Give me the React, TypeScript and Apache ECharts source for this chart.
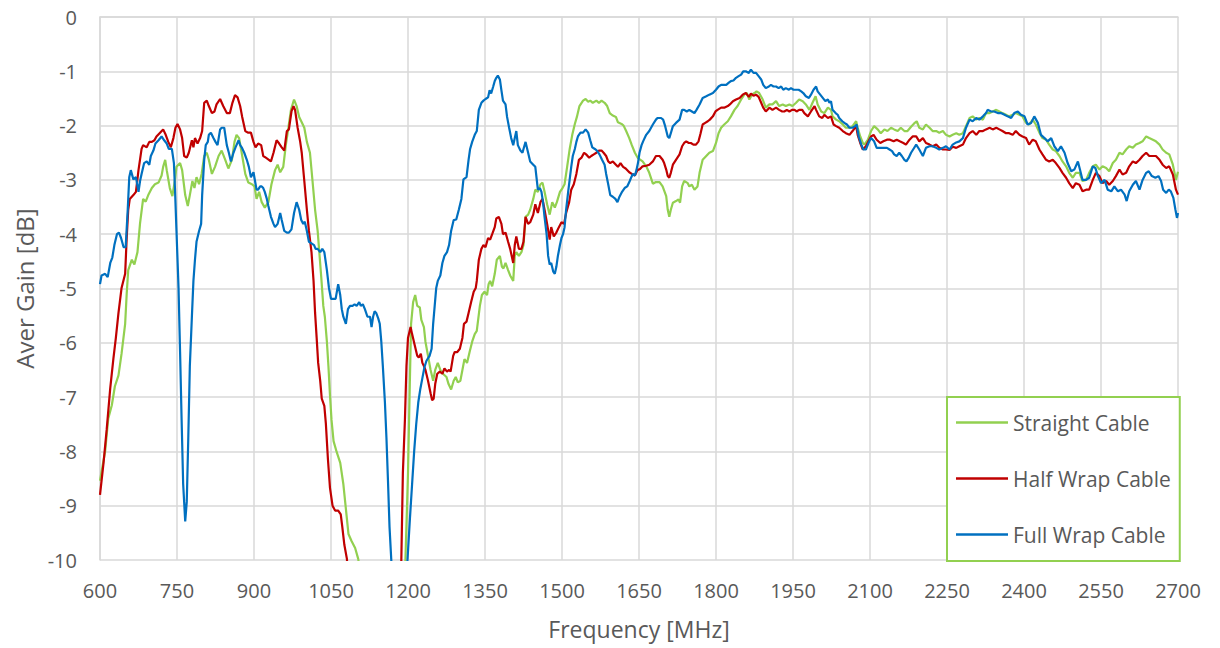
import React, { useEffect, useRef } from "react";
import * as echarts from "echarts";

// Frequency [MHz] vs average gain [dB]
const straightCable: [number, number][] = [
  [600, -8.54], [610, -8.0], [616, -7.4], [623, -7.15], [629, -6.8], [636, -6.6], [642, -6.2], [649, -5.65],
  [652, -5.1], [655, -4.66], [662, -4.47], [667, -4.56], [673, -4.33], [678, -3.8], [684, -3.35], [689, -3.4],
  [694, -3.28], [701, -3.15], [707, -3.08], [714, -3.05], [720, -2.92], [723, -2.76], [727, -2.63], [730, -2.82],
  [736, -3.15], [741, -3.3], [746, -3.0], [749, -2.76], [756, -2.69], [760, -2.82], [766, -3.28], [771, -3.48],
  [775, -3.28], [780, -3.02], [784, -3.15], [788, -2.95], [793, -3.08], [798, -2.89], [803, -2.56], [808, -2.5],
  [812, -2.63], [818, -2.89], [824, -2.76], [831, -2.56], [837, -2.46], [844, -2.63], [850, -2.79], [857, -2.63],
  [862, -2.3], [866, -2.17], [871, -2.23], [876, -2.5], [883, -2.89], [889, -3.05], [896, -3.08], [901, -3.12],
  [905, -3.35], [910, -3.22], [915, -3.41], [921, -3.51], [928, -3.41], [934, -3.08], [941, -2.82], [946, -2.72],
  [951, -2.86], [957, -2.76], [962, -2.36], [967, -2.04], [972, -1.71], [978, -1.52], [983, -1.64], [988, -1.84],
  [993, -1.94], [998, -2.04], [1003, -2.3], [1009, -2.5], [1014, -3.02], [1019, -3.55], [1024, -3.94], [1031, -4.79],
  [1035, -5.32], [1038, -5.52], [1042, -5.98], [1045, -6.43], [1048, -6.96], [1051, -7.42], [1055, -7.81], [1061, -8.01],
  [1068, -8.21], [1074, -8.6], [1079, -9.06], [1084, -9.52], [1090, -9.65], [1097, -9.78], [1103, -9.98], [1110, -10.4],
  [1150, -14], [1191, -11.2], [1195, -10], [1200, -8.4], [1203, -7.0], [1206, -5.65], [1210, -5.25], [1214, -5.12],
  [1218, -5.32], [1223, -5.35], [1226, -5.58], [1231, -5.71], [1234, -5.98], [1239, -6.24], [1244, -6.5], [1249, -6.7],
  [1253, -6.5], [1258, -6.37], [1263, -6.5], [1268, -6.57], [1275, -6.63], [1279, -6.76], [1284, -6.86], [1289, -6.7],
  [1293, -6.63], [1297, -6.73], [1302, -6.7], [1306, -6.5], [1310, -6.3], [1315, -6.37], [1320, -6.17], [1325, -5.98],
  [1330, -5.84], [1334, -5.78], [1340, -5.32], [1344, -5.12], [1349, -5.06], [1354, -5.12], [1357, -4.92], [1360, -4.86],
  [1364, -4.96], [1369, -4.73], [1373, -4.47], [1379, -4.4], [1383, -4.6], [1386, -4.63], [1390, -4.53], [1395, -4.66],
  [1399, -4.76], [1405, -4.86], [1408, -4.4], [1411, -4.33], [1416, -4.4], [1421, -4.33], [1425, -4.2], [1429, -3.68],
  [1434, -3.64], [1438, -3.55], [1444, -3.35], [1448, -3.18], [1453, -3.22], [1458, -3.08], [1462, -3.05], [1466, -3.22],
  [1471, -3.45], [1476, -3.64], [1481, -3.41], [1486, -3.51], [1490, -3.41], [1496, -3.22], [1501, -3.15], [1505, -3.08],
  [1510, -2.76], [1515, -2.43], [1520, -2.17], [1525, -1.97], [1529, -1.84], [1534, -1.64], [1541, -1.54], [1546, -1.51],
  [1551, -1.56], [1555, -1.54], [1560, -1.58], [1567, -1.54], [1572, -1.58], [1577, -1.54], [1583, -1.58], [1588, -1.64],
  [1593, -1.77], [1598, -1.81], [1605, -1.84], [1609, -1.94], [1616, -1.97], [1620, -2.0], [1625, -2.1], [1631, -2.23],
  [1636, -2.36], [1642, -2.5], [1648, -2.6], [1657, -2.66], [1664, -2.75], [1670, -2.87], [1677, -3.07], [1683, -3.04],
  [1690, -3.04], [1696, -3.12], [1703, -3.3], [1706, -3.55], [1709, -3.68], [1712, -3.55], [1716, -3.42], [1722, -3.39],
  [1727, -3.36], [1730, -3.42], [1734, -3.12], [1738, -3.02], [1745, -3.06], [1748, -3.12], [1753, -3.09], [1758, -3.18],
  [1764, -3.12], [1768, -2.87], [1774, -2.63], [1781, -2.56], [1787, -2.5], [1794, -2.47], [1800, -2.32], [1805, -2.14],
  [1810, -2.04], [1816, -1.98], [1823, -1.92], [1829, -1.83], [1836, -1.71], [1842, -1.64], [1849, -1.52], [1855, -1.43],
  [1860, -1.4], [1865, -1.52], [1870, -1.43], [1875, -1.4], [1879, -1.37], [1884, -1.4], [1891, -1.52], [1897, -1.67],
  [1904, -1.61], [1910, -1.61], [1917, -1.55], [1923, -1.64], [1930, -1.61], [1936, -1.64], [1943, -1.61], [1949, -1.64],
  [1956, -1.58], [1962, -1.52], [1969, -1.55], [1975, -1.61], [1982, -1.71], [1988, -1.58], [1994, -1.46], [1998, -1.61],
  [2005, -1.74], [2011, -1.77], [2018, -1.67], [2024, -1.71], [2027, -1.83], [2034, -1.89], [2040, -1.92], [2047, -1.98],
  [2053, -2.04], [2060, -2.04], [2066, -2.01], [2073, -1.92], [2076, -2.04], [2081, -2.2], [2086, -2.32], [2089, -2.35],
  [2096, -2.26], [2102, -2.1], [2108, -2.01], [2115, -2.07], [2121, -2.14], [2128, -2.07], [2134, -2.1], [2141, -2.04],
  [2147, -2.07], [2154, -2.1], [2160, -2.04], [2167, -2.1], [2173, -2.1], [2180, -2.02], [2186, -1.96], [2191, -1.92],
  [2196, -2.04], [2203, -2.07], [2209, -1.98], [2216, -2.04], [2222, -2.1], [2229, -2.1], [2235, -2.13], [2242, -2.1],
  [2248, -2.17], [2255, -2.2], [2261, -2.17], [2268, -2.14], [2274, -2.17], [2281, -2.14], [2287, -2.01], [2294, -1.86],
  [2300, -1.83], [2307, -1.89], [2313, -1.86], [2320, -1.89], [2326, -1.77], [2333, -1.77], [2339, -1.74], [2346, -1.71],
  [2352, -1.74], [2358, -1.77], [2365, -1.8], [2371, -1.83], [2378, -1.8], [2384, -1.77], [2391, -1.8], [2397, -1.83],
  [2404, -1.95], [2410, -1.98], [2417, -1.89], [2423, -1.98], [2430, -2.13], [2436, -2.23], [2443, -2.26], [2449, -2.35],
  [2456, -2.44], [2462, -2.47], [2469, -2.56], [2475, -2.66], [2482, -2.75], [2488, -2.87], [2495, -2.96], [2501, -2.87],
  [2508, -2.87], [2514, -3.02], [2521, -3.0], [2527, -2.87], [2534, -2.75], [2540, -2.72], [2547, -2.81], [2553, -2.75],
  [2560, -2.78], [2566, -2.84], [2573, -2.69], [2579, -2.63], [2586, -2.5], [2592, -2.53], [2599, -2.44], [2605, -2.38],
  [2612, -2.41], [2618, -2.35], [2625, -2.32], [2631, -2.29], [2638, -2.2], [2644, -2.23], [2651, -2.26], [2657, -2.29],
  [2664, -2.35], [2670, -2.44], [2677, -2.5], [2683, -2.53], [2690, -2.72], [2696, -3.0], [2700, -2.85],
];

const halfWrapCable: [number, number][] = [
  [600, -8.8], [607, -8.2], [613, -7.6], [620, -6.83], [626, -6.3], [631, -5.9], [636, -5.45], [642, -4.99],
  [649, -4.73], [652, -4.07], [655, -3.55], [658, -3.35], [665, -3.28], [670, -3.22], [675, -2.82], [681, -2.43],
  [684, -2.36], [691, -2.4], [696, -2.3], [701, -2.3], [706, -2.27], [710, -2.2], [717, -2.13], [723, -2.07],
  [728, -2.17], [733, -2.3], [738, -2.4], [743, -2.23], [747, -2.04], [751, -1.97], [756, -2.07], [760, -2.23],
  [764, -2.56], [769, -2.59], [773, -2.5], [779, -2.27], [782, -2.4], [785, -2.23], [790, -2.33], [795, -2.23],
  [799, -2.1], [803, -1.58], [808, -1.54], [812, -1.64], [818, -1.77], [823, -1.74], [827, -1.61], [834, -1.51],
  [840, -1.64], [847, -1.77], [853, -1.77], [858, -1.58], [863, -1.44], [868, -1.48], [873, -1.64], [877, -1.84],
  [883, -2.1], [888, -2.13], [894, -2.13], [899, -2.3], [903, -2.4], [908, -2.33], [914, -2.36], [918, -2.56],
  [923, -2.59], [929, -2.63], [933, -2.66], [938, -2.5], [944, -2.27], [949, -2.33], [954, -2.4], [959, -2.46],
  [964, -2.1], [968, -2.07], [973, -1.74], [977, -1.64], [980, -1.71], [985, -2.04], [990, -2.3], [993, -2.5],
  [998, -3.02], [1003, -3.55], [1007, -3.94], [1012, -4.33], [1016, -4.86], [1019, -5.45], [1022, -5.9], [1025, -6.37],
  [1029, -6.7], [1032, -7.03], [1037, -7.16], [1040, -7.49], [1044, -8.14], [1048, -8.67], [1053, -9.0], [1058, -9.09],
  [1064, -9.09], [1069, -9.16], [1072, -9.39], [1076, -9.72], [1081, -9.98], [1085, -10.6], [1130, -14], [1184, -11.3],
  [1187, -10], [1190, -8.4], [1194, -7.42], [1197, -6.43], [1200, -5.91], [1205, -5.71], [1208, -5.84], [1213, -6.04],
  [1218, -6.24], [1221, -6.27], [1225, -6.2], [1228, -6.37], [1231, -6.43], [1234, -6.5], [1239, -6.7], [1244, -6.93],
  [1247, -7.06], [1250, -7.03], [1253, -6.76], [1257, -6.57], [1262, -6.53], [1267, -6.57], [1271, -6.47], [1276, -6.53],
  [1280, -6.5], [1283, -6.53], [1288, -6.24], [1291, -6.17], [1296, -6.17], [1301, -6.11], [1306, -5.91], [1309, -5.65],
  [1314, -5.61], [1318, -5.45], [1323, -5.25], [1328, -5.06], [1332, -4.99], [1334, -4.86], [1338, -4.47], [1343, -4.27],
  [1347, -4.2], [1351, -4.24], [1356, -4.07], [1360, -4.1], [1364, -4.0], [1369, -3.87], [1372, -3.71], [1377, -3.68],
  [1382, -3.81], [1385, -4.0], [1390, -3.97], [1395, -4.14], [1399, -4.27], [1405, -4.53], [1408, -4.2], [1411, -4.04],
  [1416, -4.27], [1421, -4.27], [1425, -4.14], [1429, -3.68], [1434, -3.81], [1438, -3.78], [1444, -3.64], [1448, -3.45],
  [1453, -3.61], [1458, -3.41], [1462, -3.35], [1466, -3.55], [1471, -3.81], [1476, -4.1], [1479, -3.87], [1484, -4.04],
  [1489, -3.97], [1494, -3.87], [1499, -3.78], [1504, -3.81], [1508, -3.61], [1514, -3.41], [1518, -3.18], [1523, -3.08],
  [1528, -2.89], [1533, -2.63], [1538, -2.59], [1543, -2.5], [1547, -2.53], [1553, -2.59], [1557, -2.56], [1562, -2.53],
  [1567, -2.5], [1572, -2.46], [1577, -2.46], [1581, -2.5], [1586, -2.56], [1590, -2.66], [1594, -2.69], [1599, -2.66],
  [1605, -2.72], [1609, -2.76], [1614, -2.69], [1619, -2.76], [1624, -2.79], [1631, -2.86], [1636, -2.89], [1642, -2.92],
  [1647, -2.82], [1652, -2.8], [1657, -2.75], [1664, -2.74], [1670, -2.72], [1677, -2.66], [1683, -2.56], [1690, -2.56],
  [1696, -2.63], [1699, -2.69], [1703, -2.81], [1706, -2.93], [1709, -2.96], [1712, -2.87], [1716, -2.72], [1722, -2.63],
  [1729, -2.53], [1734, -2.38], [1738, -2.32], [1742, -2.29], [1747, -2.32], [1751, -2.32], [1756, -2.35], [1761, -2.35],
  [1766, -2.29], [1770, -2.14], [1774, -1.98], [1779, -1.95], [1784, -1.92], [1788, -1.89], [1794, -1.83], [1799, -1.74],
  [1803, -1.71], [1810, -1.67], [1816, -1.67], [1823, -1.64], [1827, -1.61], [1833, -1.55], [1839, -1.52], [1846, -1.49],
  [1852, -1.43], [1858, -1.4], [1864, -1.47], [1868, -1.41], [1873, -1.45], [1878, -1.43], [1883, -1.47], [1888, -1.58],
  [1892, -1.67], [1897, -1.74], [1904, -1.67], [1910, -1.71], [1917, -1.67], [1923, -1.71], [1929, -1.74], [1933, -1.74],
  [1938, -1.71], [1943, -1.74], [1948, -1.71], [1953, -1.71], [1957, -1.74], [1962, -1.71], [1968, -1.71], [1972, -1.77],
  [1979, -1.83], [1985, -1.74], [1992, -1.64], [1995, -1.71], [2001, -1.83], [2007, -1.86], [2011, -1.8], [2018, -1.86],
  [2024, -1.83], [2029, -1.98], [2034, -2.01], [2040, -2.04], [2047, -2.1], [2053, -2.14], [2060, -2.17], [2066, -2.1],
  [2073, -2.01], [2076, -2.17], [2081, -2.32], [2086, -2.44], [2092, -2.38], [2097, -2.29], [2102, -2.2], [2107, -2.17],
  [2113, -2.26], [2120, -2.32], [2126, -2.29], [2133, -2.26], [2139, -2.26], [2146, -2.29], [2152, -2.26], [2158, -2.29],
  [2165, -2.32], [2170, -2.35], [2177, -2.26], [2183, -2.2], [2190, -2.2], [2196, -2.29], [2203, -2.23], [2209, -2.32],
  [2216, -2.35], [2222, -2.38], [2229, -2.35], [2235, -2.41], [2242, -2.44], [2248, -2.44], [2255, -2.45], [2261, -2.39],
  [2268, -2.41], [2274, -2.38], [2281, -2.35], [2287, -2.23], [2294, -2.14], [2300, -2.1], [2307, -2.17], [2313, -2.1],
  [2320, -2.1], [2326, -2.07], [2333, -2.04], [2339, -2.07], [2346, -2.04], [2352, -2.07], [2358, -2.1], [2365, -2.14],
  [2371, -2.14], [2378, -2.17], [2384, -2.1], [2391, -2.17], [2397, -2.2], [2404, -2.23], [2410, -2.35], [2417, -2.26],
  [2423, -2.29], [2430, -2.44], [2436, -2.53], [2443, -2.63], [2449, -2.66], [2456, -2.63], [2462, -2.69], [2469, -2.78],
  [2475, -2.87], [2482, -2.96], [2488, -3.06], [2495, -3.15], [2501, -3.06], [2508, -3.09], [2514, -3.21], [2521, -3.18],
  [2527, -3.18], [2534, -3.0], [2540, -2.87], [2547, -2.93], [2553, -3.06], [2560, -3.02], [2566, -3.09], [2573, -3.02],
  [2579, -2.93], [2586, -2.81], [2592, -2.9], [2599, -2.87], [2605, -2.75], [2612, -2.66], [2618, -2.69], [2625, -2.63],
  [2631, -2.56], [2638, -2.5], [2644, -2.56], [2651, -2.56], [2657, -2.56], [2664, -2.63], [2670, -2.72], [2677, -2.78],
  [2683, -2.75], [2690, -2.9], [2696, -3.18], [2700, -3.27],
];

const fullWrapCable: [number, number][] = [
  [600, -4.92], [603, -4.76], [610, -4.73], [615, -4.79], [620, -4.53], [624, -4.43], [628, -4.2], [633, -4.0],
  [637, -3.97], [641, -4.07], [646, -4.24], [650, -4.24], [654, -3.55], [657, -2.95], [660, -2.82], [665, -2.99],
  [670, -2.95], [675, -3.22], [678, -3.02], [681, -2.89], [686, -2.69], [691, -2.66], [696, -2.72], [699, -2.56],
  [704, -2.46], [708, -2.33], [714, -2.27], [720, -2.2], [725, -2.27], [730, -2.33], [734, -2.43], [740, -2.43],
  [744, -2.69], [746, -3.15], [749, -3.94], [753, -4.99], [756, -6.17], [759, -7.42], [762, -8.6], [766, -9.29],
  [769, -8.93], [772, -7.75], [775, -6.43], [779, -5.52], [782, -4.86], [785, -4.47], [788, -4.14], [793, -3.94],
  [797, -3.81], [799, -3.28], [803, -2.63], [806, -2.36], [810, -2.3], [812, -2.17], [816, -2.13], [821, -2.23],
  [825, -2.3], [829, -2.36], [834, -2.07], [837, -2.04], [842, -2.04], [847, -2.36], [851, -2.5], [855, -2.66],
  [860, -2.5], [864, -2.4], [870, -2.27], [873, -2.36], [876, -2.4], [881, -2.5], [886, -2.63], [890, -2.76],
  [894, -2.95], [899, -2.86], [902, -3.02], [905, -3.18], [908, -3.18], [912, -3.12], [915, -3.12], [918, -3.15],
  [921, -3.22], [925, -3.35], [928, -3.48], [933, -3.68], [938, -3.81], [941, -3.87], [946, -3.81], [951, -3.61],
  [954, -3.74], [959, -3.94], [964, -3.97], [968, -3.97], [973, -3.91], [978, -3.61], [983, -3.41], [988, -3.55],
  [992, -3.74], [996, -3.81], [999, -3.77], [1003, -3.94], [1007, -4.14], [1012, -4.17], [1017, -4.2], [1020, -4.27],
  [1024, -4.27], [1029, -4.33], [1033, -4.27], [1037, -4.33], [1042, -4.66], [1046, -4.99], [1050, -5.19], [1055, -5.19],
  [1059, -5.19], [1064, -4.92], [1068, -5.12], [1071, -5.38], [1074, -5.52], [1079, -5.65], [1083, -5.38], [1087, -5.32],
  [1092, -5.32], [1096, -5.29], [1100, -5.32], [1105, -5.25], [1108, -5.32], [1112, -5.29], [1116, -5.38], [1121, -5.52],
  [1126, -5.52], [1129, -5.71], [1132, -5.52], [1135, -5.42], [1138, -5.45], [1142, -5.55], [1145, -5.65], [1148, -5.98],
  [1151, -6.43], [1155, -7.09], [1158, -7.75], [1161, -8.54], [1164, -9.39], [1168, -10.1], [1182, -13], [1199, -10],
  [1204, -9.2], [1208, -8.6], [1212, -8.0], [1216, -7.5], [1220, -7.1], [1224, -6.85], [1228, -6.65], [1232, -6.45],
  [1236, -6.33], [1242, -6.24], [1246, -6.11], [1249, -5.65], [1252, -5.32], [1255, -4.99], [1258, -4.86], [1263, -4.76],
  [1267, -4.53], [1271, -4.4], [1276, -4.33], [1280, -4.2], [1284, -3.94], [1289, -3.74], [1294, -3.73], [1299, -3.55],
  [1304, -3.35], [1308, -2.99], [1314, -2.95], [1318, -2.63], [1321, -2.43], [1325, -2.3], [1330, -2.17], [1334, -2.1],
  [1338, -1.71], [1343, -1.58], [1347, -1.54], [1351, -1.51], [1356, -1.48], [1359, -1.35], [1362, -1.41], [1366, -1.28],
  [1369, -1.18], [1372, -1.12], [1375, -1.08], [1379, -1.15], [1382, -1.35], [1385, -1.54], [1390, -1.61], [1393, -1.84],
  [1397, -2.04], [1401, -2.23], [1405, -2.36], [1408, -2.23], [1411, -2.1], [1414, -2.36], [1419, -2.46], [1423, -2.5],
  [1425, -2.43], [1429, -2.3], [1434, -2.5], [1438, -2.66], [1444, -2.72], [1448, -2.76], [1453, -3.18], [1457, -3.15],
  [1460, -3.22], [1463, -3.41], [1466, -3.68], [1470, -4.0], [1473, -4.4], [1476, -4.56], [1479, -4.53], [1483, -4.69],
  [1486, -4.73], [1489, -4.6], [1492, -4.4], [1496, -4.2], [1499, -4.07], [1502, -4.0], [1505, -3.87], [1508, -3.55],
  [1512, -3.22], [1515, -2.99], [1518, -2.76], [1521, -2.56], [1525, -2.43], [1528, -2.3], [1531, -2.2], [1536, -2.13],
  [1541, -2.13], [1546, -2.07], [1551, -2.13], [1555, -2.27], [1559, -2.4], [1564, -2.43], [1568, -2.46], [1573, -2.53],
  [1578, -2.63], [1583, -2.72], [1586, -2.89], [1590, -3.08], [1594, -3.28], [1599, -3.31], [1604, -3.35], [1608, -3.41],
  [1612, -3.31], [1617, -3.22], [1622, -3.15], [1627, -3.12], [1632, -3.02], [1635, -2.95], [1638, -2.89], [1642, -2.92],
  [1645, -2.82], [1648, -2.69], [1651, -2.5], [1655, -2.36], [1658, -2.29], [1664, -2.17], [1670, -2.1], [1677, -1.98],
  [1683, -1.89], [1686, -1.86], [1693, -1.86], [1697, -1.89], [1701, -2.01], [1706, -2.2], [1709, -2.23], [1712, -2.14],
  [1716, -2.01], [1722, -1.95], [1729, -1.89], [1734, -1.71], [1738, -1.71], [1743, -1.74], [1748, -1.71], [1753, -1.74],
  [1758, -1.77], [1762, -1.71], [1768, -1.61], [1774, -1.49], [1781, -1.46], [1787, -1.43], [1794, -1.4], [1800, -1.34],
  [1805, -1.28], [1810, -1.25], [1814, -1.25], [1820, -1.25], [1825, -1.21], [1829, -1.18], [1834, -1.17], [1839, -1.12],
  [1844, -1.09], [1849, -1.06], [1853, -1.0], [1858, -1.0], [1864, -1.03], [1868, -0.97], [1873, -1.03], [1878, -1.03],
  [1883, -1.09], [1888, -1.15], [1892, -1.25], [1897, -1.31], [1903, -1.28], [1907, -1.25], [1912, -1.28], [1917, -1.28],
  [1922, -1.31], [1927, -1.28], [1931, -1.34], [1936, -1.31], [1942, -1.34], [1946, -1.31], [1951, -1.34], [1956, -1.34],
  [1961, -1.34], [1966, -1.37], [1970, -1.4], [1975, -1.46], [1981, -1.49], [1985, -1.43], [1990, -1.34], [1995, -1.28],
  [1998, -1.37], [2003, -1.43], [2008, -1.49], [2013, -1.55], [2018, -1.52], [2021, -1.58], [2024, -1.55], [2027, -1.71],
  [2033, -1.77], [2037, -1.8], [2040, -1.86], [2046, -1.92], [2050, -1.95], [2055, -1.98], [2060, -2.04], [2066, -2.04],
  [2071, -2.01], [2074, -1.98], [2078, -2.2], [2083, -2.35], [2087, -2.44], [2092, -2.44], [2097, -2.32], [2102, -2.23],
  [2108, -2.29], [2113, -2.41], [2118, -2.41], [2123, -2.41], [2128, -2.41], [2133, -2.41], [2138, -2.44], [2143, -2.47],
  [2147, -2.53], [2152, -2.56], [2157, -2.5], [2162, -2.56], [2167, -2.63], [2171, -2.66], [2175, -2.6], [2180, -2.5],
  [2184, -2.44], [2190, -2.35], [2196, -2.44], [2203, -2.56], [2209, -2.41], [2216, -2.38], [2222, -2.38], [2229, -2.41],
  [2235, -2.44], [2242, -2.41], [2248, -2.38], [2255, -2.44], [2261, -2.35], [2268, -2.31], [2274, -2.29], [2281, -2.23],
  [2287, -2.04], [2294, -1.89], [2300, -1.92], [2307, -1.86], [2313, -1.89], [2320, -1.83], [2326, -1.77], [2329, -1.71],
  [2336, -1.74], [2342, -1.74], [2349, -1.77], [2355, -1.77], [2362, -1.8], [2368, -1.83], [2375, -1.86], [2381, -1.77],
  [2388, -1.74], [2394, -1.8], [2401, -1.83], [2407, -1.98], [2414, -1.95], [2420, -1.83], [2427, -1.95], [2433, -2.17],
  [2440, -2.23], [2446, -2.29], [2453, -2.23], [2459, -2.38], [2466, -2.47], [2472, -2.38], [2479, -2.5], [2485, -2.69],
  [2492, -2.84], [2498, -2.81], [2505, -2.66], [2509, -2.81], [2514, -3.0], [2521, -3.0], [2527, -2.96], [2534, -2.75],
  [2539, -2.78], [2544, -2.93], [2550, -3.06], [2557, -3.0], [2563, -3.18], [2570, -3.21], [2576, -3.12], [2583, -3.21],
  [2589, -3.18], [2596, -3.27], [2600, -3.39], [2605, -3.21], [2612, -3.09], [2618, -3.02], [2625, -3.18], [2631, -3.0],
  [2638, -2.87], [2643, -2.84], [2649, -2.93], [2656, -2.96], [2662, -2.93], [2667, -3.02], [2671, -3.18], [2677, -3.24],
  [2682, -3.18], [2686, -3.21], [2691, -3.33], [2695, -3.55], [2698, -3.7], [2700, -3.61],
];

const seriesNames = ["Straight Cable", "Half Wrap Cable", "Full Wrap Cable"];
const seriesColors = ["#92D050", "#C00000", "#0070C0"];
const seriesData = [straightCable, halfWrapCable, fullWrapCable];

const FONT = "'Open Sans', 'Noto Sans', sans-serif";
const TEXT = "#595959";
const GRID = "#D9D9D9";

export default function App() {
  const ref = useRef<HTMLDivElement>(null);
  useEffect(() => {
    if (!ref.current) return;
    const chart = echarts.init(ref.current, undefined, { renderer: "svg" });
    chart.setOption({
      animation: false,
      backgroundColor: "#ffffff",
      grid: { left: 100, right: 42, top: 17, bottom: 88, containLabel: false },
      xAxis: {
        type: "value",
        min: 600,
        max: 2700,
        interval: 150,
        name: "Frequency [MHz]",
        nameLocation: "middle",
        nameGap: 57,
        nameTextStyle: { color: TEXT, fontSize: 23, fontFamily: FONT },
        axisLine: { show: true, lineStyle: { color: GRID, width: 1.5 } },
        axisTick: { show: false },
        axisLabel: {
          color: TEXT,
          fontSize: 20,
          fontFamily: FONT,
          margin: 20,
          formatter: (v: number) => String(v),
        },
        splitLine: { show: true, lineStyle: { color: GRID, width: 1.5 } },
      },
      yAxis: {
        type: "value",
        min: -10,
        max: 0,
        interval: 1,
        name: "Aver Gain [dB]",
        nameLocation: "middle",
        nameGap: 62,
        nameTextStyle: { color: TEXT, fontSize: 24, fontFamily: FONT },
        axisLine: { show: true, lineStyle: { color: GRID, width: 1.5 } },
        axisTick: { show: false },
        axisLabel: { color: TEXT, fontSize: 20, fontFamily: FONT, margin: 23 },
        splitLine: { show: true, lineStyle: { color: GRID, width: 1.5 } },
      },
      legend: {
        orient: "vertical",
        left: 947,
        top: 397,
        padding: [15, 9, 16, 9],
        itemGap: 35,
        itemWidth: 52,
        itemHeight: 2.5,
        icon: "rect",
        borderColor: "#92D050",
        borderWidth: 2,
        backgroundColor: "#ffffff",
        textStyle: { color: TEXT, fontSize: 21, fontFamily: FONT, lineHeight: 21, width: 157 },
        data: seriesNames,
      },
      series: seriesNames.map((name, i) => ({
        name,
        type: "line",
        data: seriesData[i],
        showSymbol: false,
        symbol: "none",
        clip: true,
        color: seriesColors[i],
        lineStyle: { color: seriesColors[i], width: 2.2 },
        emphasis: { disabled: true },
      })),
    });
    return () => chart.dispose();
  }, []);
  return (
    <div
      ref={ref}
      style={{ position: "fixed", left: 0, top: 0, width: 1220, height: 648, background: "#fff" }}
    />
  );
}
